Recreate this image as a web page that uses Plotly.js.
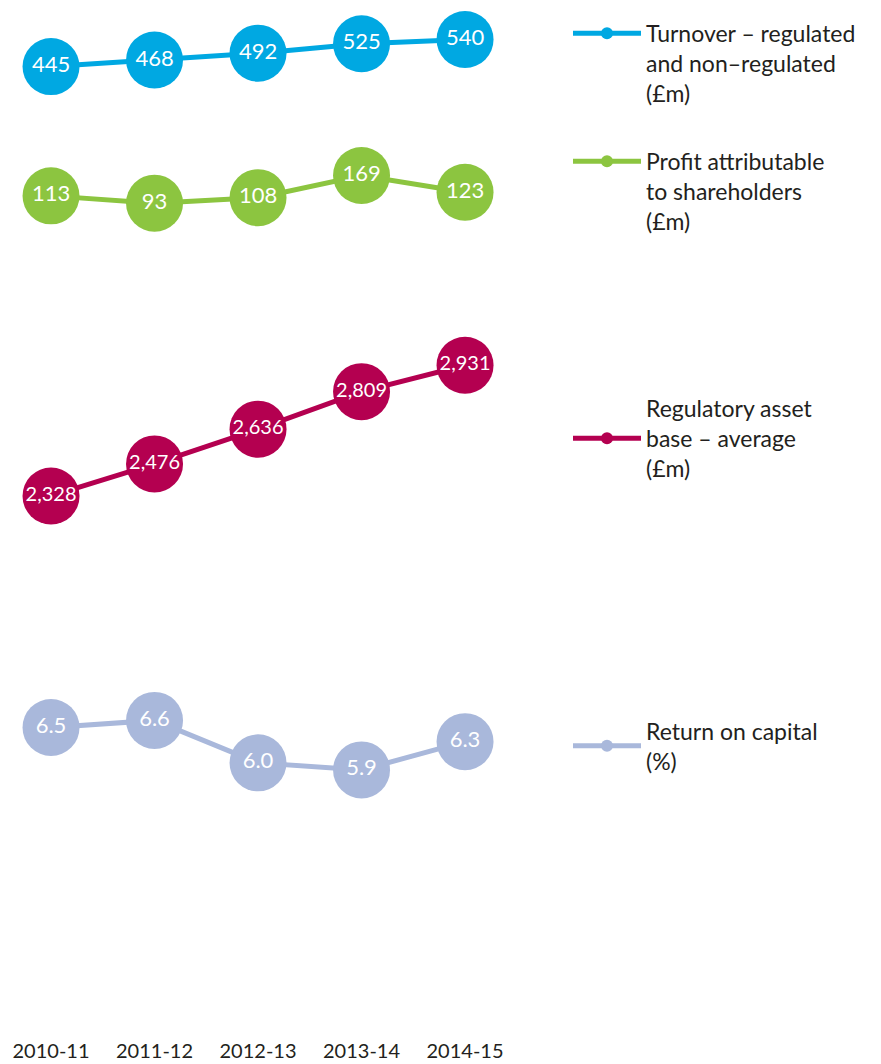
<!DOCTYPE html>
<html>
<head>
<meta charset="utf-8">
<script src="https://cdn.plot.ly/plotly-3.0.1.min.js"></script>
<style>html,body{margin:0;padding:0;background:#fff;}#chart{width:881px;height:1064px;}</style>
</head>
<body>
<div id="chart"></div>
<script>
const years = ['2010-11', '2011-12', '2012-13', '2013-14', '2014-15'];
const turnover = [445, 468, 492, 525, 540];
const profit = [113, 93, 108, 169, 123];
const rab = [2328, 2476, 2636, 2809, 2931];
const roc = [6.5, 6.6, 6.0, 5.9, 6.3];
const seriesNames = [
  'Turnover – regulated<br>and non–regulated<br>(£m)',
  'Profit attributable<br>to shareholders<br>(£m)',
  'Regulatory asset<br>base – average<br>(£m)',
  'Return on capital<br>(%)'
];

const colors = ['#00a8e2', '#8cc540', '#b40050', '#a9b8db'];
const FONT = 'Lato, "Noto Sans", sans-serif';
const INK = '#231f20';

const series = [
  {vals: turnover, text: turnover.map(v => String(v)), axis: 'y', size: 22},
  {vals: profit, text: profit.map(v => String(v)), axis: 'y2', size: 22},
  {vals: rab, text: rab.map(v => v.toLocaleString('en-GB')), axis: 'y3', size: 20},
  {vals: roc, text: roc.map(v => v.toFixed(1)), axis: 'y4', size: 22}
];
const legendIds = ['legend', 'legend2', 'legend3', 'legend4'];

const data = [];
series.forEach((s, i) => {
  data.push({
    type: 'scatter', mode: 'lines+markers+text',
    x: years, y: s.vals, yaxis: s.axis, xaxis: 'x',
    text: s.text, textposition: 'middle center',
    textfont: {family: FONT, size: s.size, color: '#ffffff'},
    line: {color: colors[i], width: 5},
    marker: {color: colors[i], size: 57, line: {width: 0}},
    showlegend: false, hoverinfo: 'skip', cliponaxis: false
  });
});
series.forEach((s, i) => {
  data.push({
    type: 'scatter', mode: 'lines+markers',
    x: [null], y: [null], yaxis: s.axis, xaxis: 'x',
    name: seriesNames[i],
    line: {color: colors[i], width: 5},
    marker: {color: colors[i], size: 12},
    showlegend: true, legend: legendIds[i], hoverinfo: 'skip'
  });
});

const hiddenY = (range) => ({
  range: range, visible: false, showgrid: false, zeroline: false, fixedrange: true
});

function legendAt(xp, yp, valign) {
  return {
    x: xp, y: yp, xanchor: 'left', yanchor: 'top',
    bgcolor: 'rgba(0,0,0,0)', borderwidth: 0,
    font: {family: FONT, size: 23, color: INK},
    itemwidth: 68, valign: valign, tracegroupgap: 0
  };
}

const layout = {
  width: 881, height: 1064,
  margin: {l: 0, r: 0, t: 0, b: 34, pad: 0},
  paper_bgcolor: '#ffffff', plot_bgcolor: '#ffffff',
  showlegend: true,
  xaxis: {
    type: 'category', domain: [0, 520 / 881], range: [-0.493, 4.531],
    showgrid: false, zeroline: false, showline: false, ticks: '',
    ticklabelstandoff: 7,
    tickfont: {family: FONT, size: 20, color: INK}, fixedrange: true
  },
  yaxis: hiddenY([-2935.5, 678.6]),
  yaxis2: Object.assign(hiddenY([-2178.6, 651.1]), {overlaying: 'y'}),
  yaxis3: Object.assign(hiddenY([-135.2, 4615.7]), {overlaying: 'y'}),
  yaxis4: Object.assign(hiddenY([2.227, 16.775]), {overlaying: 'y'}),
  legend: legendAt(568 / 881, 0.9885, 'top'),
  legend2: legendAt(568 / 881, 0.8642, 'top'),
  legend3: legendAt(568 / 881, 0.6244, 'middle'),
  legend4: legendAt(568 / 881, 0.3113, 'middle')
};

Plotly.newPlot('chart', data, layout, {displayModeBar: false, staticPlot: true});
</script>
</body>
</html>
